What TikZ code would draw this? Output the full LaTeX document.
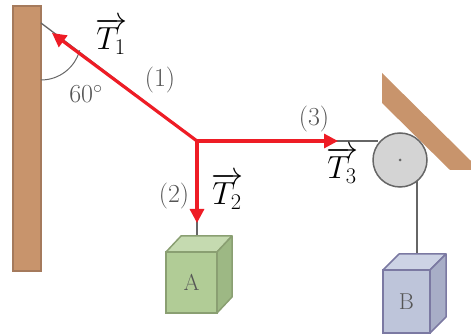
\RequirePackage{fix-cm}
\documentclass[tikz,border=0pt]{standalone}
\usetikzlibrary{arrows.meta}
\definecolor{woodfill}{HTML}{C8946C}
\definecolor{woodedge}{HTML}{A57A5C}
\definecolor{ropegray}{HTML}{666666}
\definecolor{vecred}{HTML}{EE1C25}
\definecolor{labelgray}{HTML}{555555}
\definecolor{afront}{HTML}{B1CC96}
\definecolor{atop}{HTML}{C5DAB0}
\definecolor{aside}{HTML}{9DB884}
\definecolor{aedge}{HTML}{8A9F72}
\definecolor{bfront}{HTML}{BEC5DA}
\definecolor{btop}{HTML}{CDD3E5}
\definecolor{bside}{HTML}{A8AEC7}
\definecolor{bedge}{HTML}{7B79A2}
\definecolor{pulleyfill}{HTML}{D4D4D4}
\tikzset{
  rope/.style={draw=ropegray, line width=1.3pt},
  vec/.style={draw=vecred, line width=3.2pt, -{Triangle[length=14pt,width=14pt]}},
  lbl/.style={text=labelgray, font=\fontsize{26}{29}\selectfont, inner sep=0pt},
  vlbl/.style={font=\fontsize{32}{36}\selectfont, inner sep=0pt},
}
\begin{document}
\begin{tikzpicture}[x=1pt,y=-1pt]
\useasboundingbox (0,0) rectangle (471,336);

% wall post and slanted support
\draw[fill=woodfill, draw=woodedge, line width=1.5pt] (13,6) rectangle (41,271);
\fill[woodfill] (382,73) -- (471,161) -- (471,170) -- (450,170) -- (382,103) -- cycle;

% key points
\coordinate (W) at (41,23);
\coordinate (J) at (197,141);
\coordinate (T1tip) at (52,33);
\coordinate (T2tip) at (197,223);
\coordinate (T3tip) at (338,141);
\coordinate (P) at (400,160);
\coordinate (Ptop) at (378,141);
\coordinate (Aattach) at (197,244);
\coordinate (Pright) at (417,178);
\coordinate (Battach) at (417,262);

% angle mark
\draw[ropegray, line width=1pt] (41,80) arc[start angle=90, end angle=15, radius=40];

% ropes
\draw[rope] (W) -- (J);
\draw[rope] (J) -- (Ptop);
\draw[rope] (J) -- (Aattach);
\draw[rope] (Pright) -- (Battach);

% pulley
\node[circle, draw=ropegray, fill=pulleyfill, line width=1.5pt, minimum size=54pt, inner sep=0pt] (pulley) at (P) {};
\fill[ropegray] (P) circle (1.5pt);

% block A
\fill[atop, draw=aedge, line width=1.5pt, line join=round] (166,252) -- (181,236) -- (232,236) -- (217,252) -- cycle;
\fill[aside, draw=aedge, line width=1.5pt, line join=round] (217,252) -- (232,236) -- (232,297) -- (217,313) -- cycle;
\node[draw=aedge, fill=afront, line width=1.5pt, minimum width=51pt, minimum height=61pt, inner sep=0pt,
      text=labelgray, font=\fontsize{23}{25}\selectfont] (A) at (191.5,282.5) {A};

% block B
\fill[btop, draw=bedge, line width=1.5pt, line join=round] (383,270) -- (399,254) -- (446,254) -- (430,270) -- cycle;
\fill[bside, draw=bedge, line width=1.5pt, line join=round] (430,270) -- (446,254) -- (446,317) -- (430,333) -- cycle;
\node[draw=bedge, fill=bfront, line width=1.5pt, minimum width=47pt, minimum height=63pt, inner sep=0pt,
      text=labelgray, font=\fontsize{23}{25}\selectfont] (B) at (406.5,301.5) {B};

% tension vectors
\draw[vec] (J) -- (T1tip);
\draw[vec] (J) -- (T2tip);
\draw[vec] (J) -- (T3tip);

% labels
\node[vlbl] (t1) at (111,36) {$\overrightarrow{T_1}$};
\node[vlbl] (t2) at (227,191) {$\overrightarrow{T_2}$};
\node[vlbl] (t3) at (342,165) {$\overrightarrow{T_3}$};
\node[lbl] (l1) at (160,80) {(1)};
\node[lbl] (l2) at (174,196) {(2)};
\node[lbl] (l3) at (314,119) {(3)};
\node[lbl] (ang) at (86,94) {60$^\circ$};
\end{tikzpicture}
\end{document}
